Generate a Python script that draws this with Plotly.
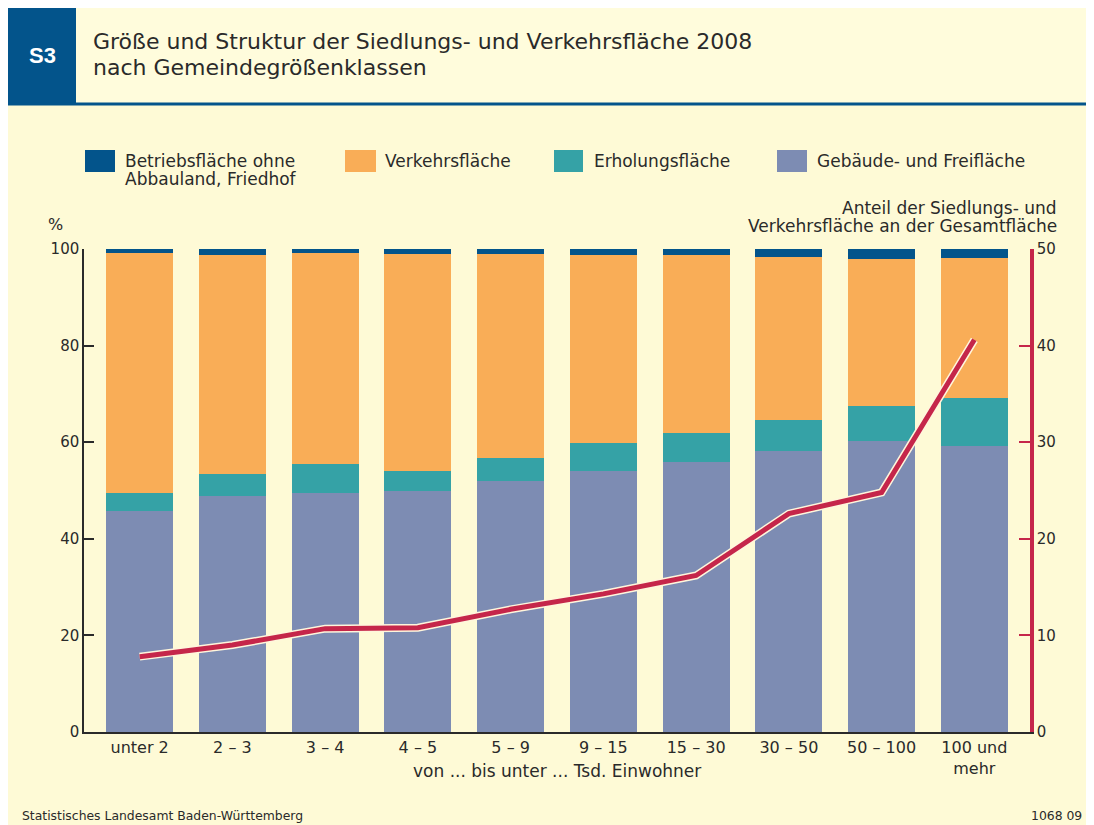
import plotly.graph_objects as go

categories = ["unter 2", "2 – 3", "3 – 4", "4 – 5", "5 – 9", "9 – 15", "15 – 30", "30 – 50", "50 – 100", "100 und<br>mehr"]
gebaeude = [45.8, 48.9, 49.5, 49.8, 52.0, 54.0, 55.9, 58.2, 60.2, 59.2]
erholung = [3.7, 4.6, 6.0, 4.2, 4.7, 5.8, 6.0, 6.4, 7.3, 10.0]
verkehr = [49.7, 45.3, 43.7, 45.0, 42.3, 39.0, 36.9, 33.7, 30.4, 28.9]
betrieb = [0.8, 1.2, 0.8, 1.0, 1.0, 1.2, 1.2, 1.7, 2.1, 1.9]
anteil = [7.8, 9.0, 10.7, 10.8, 12.7, 14.3, 16.2, 22.6, 24.8, 40.6]

series_names = ["Gebäude- und Freifläche", "Erholungsfläche", "Verkehrsfläche",
                "Betriebsfläche ohne<br>Abbauland, Friedhof"]
colors = ["#7D8CB3", "#35A2A6", "#F9AD57", "#03548B"]
RED = "#C5264A"
CREAM = "#FEFAD6"
TEXT = "#2A2A2A"
FONT = "DejaVu Sans"

# page offset (browser body margin)
OX, OY = 8, 8
W, H = 1078, 817
# plot area in page pixels
L, R, T, B = 84, 1030, 249, 732


def px(x):
    return (x - L) / (R - L)


def py(y):
    return (B - y) / (B - T)


fig = go.Figure()
x_idx = list(range(len(categories)))
for vals, name, col in zip([gebaeude, erholung, verkehr, betrieb], series_names, colors):
    fig.add_trace(go.Bar(x=x_idx, y=vals, name=name, marker=dict(color=col, line=dict(width=0)),
                         width=0.72, showlegend=False, hoverinfo="skip"))

fig.add_trace(go.Scatter(x=x_idx, y=anteil, yaxis="y2", mode="lines",
                         line=dict(color="#FFF6DC", width=8), showlegend=False, hoverinfo="skip"))
fig.add_trace(go.Scatter(x=x_idx, y=anteil, yaxis="y2", mode="lines",
                         line=dict(color=RED, width=5), showlegend=False))

shapes = []
ann = []


def text(x, y, s, size=16, family=FONT, xanchor="left", yanchor="middle", color=TEXT, align="left"):
    ann.append(dict(xref="paper", yref="paper", x=px(x), y=py(y), text=s, showarrow=False,
                    xanchor=xanchor, yanchor=yanchor, align=align,
                    font=dict(family=family, size=size, color=color)))


# header panels
shapes.append(dict(type="rect", xref="paper", yref="paper", x0=px(8), x1=px(1086), y0=py(103), y1=py(0),
                   fillcolor="#FFFCDC", line=dict(width=0), layer="below"))
shapes.append(dict(type="rect", xref="paper", yref="paper", x0=px(8), x1=px(76), y0=py(103), y1=py(0),
                   fillcolor="#03548B", line=dict(width=0), layer="below"))
shapes.append(dict(type="line", xref="paper", yref="paper", x0=px(8), x1=px(1086), y0=py(104), y1=py(104),
                   line=dict(color="#03548B", width=3), layer="below"))

text(42, 55, "<b>S3</b>", size=22, family="Liberation Sans", xanchor="center", color="white")
text(91, 42, "Größe und Struktur der Siedlungs- und Verkehrsfläche 2008", size=22)
text(91, 68, "nach Gemeindegrößenklassen", size=22)

# legend (manual)
leg_items = [(85, 115, 123, 3), (345, 376, 383, 2), (554, 583, 592, 1), (777, 807, 815, 0)]
for x0, x1, tx, i in leg_items:
    shapes.append(dict(type="rect", xref="paper", yref="paper", x0=px(x0), x1=px(x1), y0=py(172), y1=py(150),
                       fillcolor=colors[i], line=dict(width=0)))
    lines = series_names[i].split("<br>")
    for k, ln in enumerate(lines):
        text(tx, 161 + 18 * k, ln, size=17)

text(55, 225, "%", size=16, xanchor="center")
text(1059, 208, "Anteil der Siedlungs- und", size=17, xanchor="right")
text(1059, 226, "Verkehrsfläche an der Gesamtfläche", size=17, xanchor="right")
text(557, 771, "von ... bis unter ... Tsd. Einwohner", size=17, xanchor="center")
text(20, 815, "Statistisches Landesamt Baden-Württemberg", size=12.4)
text(1084, 815, "1068 09", size=12.4, xanchor="right")

fig.update_layout(
    width=W, height=H,
    margin=dict(l=L - OX, r=(OX + W) - R, t=T - OY, b=(OY + H) - B, pad=0),
    paper_bgcolor=CREAM, plot_bgcolor=CREAM,
    barmode="stack",
    showlegend=False,
    font=dict(family=FONT, size=16, color=TEXT),
    xaxis=dict(range=[-0.6, 9.6], tickmode="array", tickvals=x_idx, ticktext=categories,
               showline=True, linecolor="#2A2A2A", linewidth=1.5, ticks="", showgrid=False,
               zeroline=False, tickfont=dict(family=FONT, size=16, color=TEXT)),
    yaxis=dict(range=[0, 100], tickvals=[0, 20, 40, 60, 80, 100], showline=True, linecolor="#2A2A2A",
               linewidth=1.5, ticks="inside", ticklen=10, tickwidth=1.5, tickcolor="#2A2A2A",
               showgrid=False, zeroline=False, tickfont=dict(family=FONT, size=15, color=TEXT)),
    yaxis2=dict(range=[0, 50], tickvals=[0, 10, 20, 30, 40, 50], overlaying="y", side="right",
                showline=True, linecolor=RED, linewidth=3.5, ticks="inside", ticklen=11, tickwidth=1.5,
                tickcolor=RED, showgrid=False, zeroline=False,
                tickfont=dict(family=FONT, size=15, color=TEXT)),
    shapes=shapes, annotations=ann,
)

fig.write_html("out.html")
